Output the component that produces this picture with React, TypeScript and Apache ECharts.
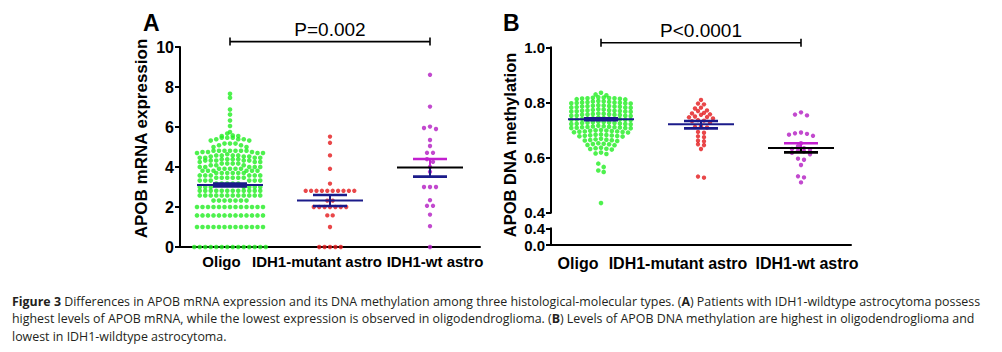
import React, { useEffect, useRef } from "react";
import * as echarts from "echarts";

// ---------- data ----------
const categories = ["Oligo", "IDH1-mutant astro", "IDH1-wt astro"];

// Panel A: APOB mRNA expression
const mrnaOligo = [
  0, 0, 0, 0, 0, 0, 0, 0, 0, 0, 0, 0, 0, 0,
  1, 1, 1, 1, 1, 1, 1, 1, 1, 1, 1, 1, 1,
  1.58, 1.58, 1.58, 1.58, 1.58, 1.58, 1.58, 1.58, 1.58, 1.58, 1.58, 1.58, 1.58,
  2, 2, 2, 2, 2, 2, 2, 2, 2, 2, 2, 2, 2,
  2.32, 2.32, 2.32, 2.32, 2.32, 2.32, 2.32,
  2.58, 2.58, 2.58, 2.58, 2.58, 2.58, 2.58, 2.58, 2.58, 2.58, 2.58, 2.58,
  2.81, 2.81, 2.81, 2.81, 2.81, 2.81, 2.81, 2.81, 2.81, 2.81, 2.81, 2.81,
  3, 3, 3, 3, 3, 3, 3, 3.17, 3.17, 3.17, 3.17, 3.17,
  3.32, 3.32, 3.32, 3.32, 3.32, 3.32, 3.46, 3.46, 3.46, 3.46, 3.46, 3.46,
  3.58, 3.58, 3.58, 3.58, 3.58, 3.58, 3.7, 3.7, 3.7, 3.7, 3.7, 3.7,
  3.81, 3.81, 3.81, 3.81, 3.81, 3.81, 3.91, 3.91, 3.91, 3.91, 3.91,
  4, 4, 4, 4, 4, 4.09, 4.09, 4.09, 4.17, 4.17, 4.17, 4.17,
  4.25, 4.25, 4.25, 4.32, 4.32, 4.32, 4.32, 4.32, 4.39, 4.39, 4.39, 4.39,
  4.46, 4.46, 4.46, 4.46, 4.52, 4.52, 4.52, 4.58, 4.58, 4.58, 4.58, 4.64,
  4.7, 4.7, 4.7, 4.75, 4.75, 4.75, 4.81, 4.81, 4.81, 4.81, 4.81, 4.81, 4.81,
  5, 5, 5.09, 5.09, 5.17, 5.17, 5.17,
  5.32, 5.32, 5.39, 5.39, 5.39, 5.46, 5.46, 5.46,
  5.55, 5.55, 5.58, 5.67,
  5.75, 6.05, 6.32, 6.62, 6.87, 7.46, 7.66,
];
const mrnaMutant = [
  0, 0, 0, 0, 0, 1, 1.58, 1.58,
  2, 2, 2, 2, 2, 2, 2, 2.32, 2.32,
  2.81, 2.81, 2.81, 2.81, 2.81, 2.81, 2.81, 2.81, 2.81, 2.81,
  3.17, 3.91, 4.58, 5.21, 5.52,
];
const mrnaWt = [
  0, 1.04, 1.62, 2.06, 2.06, 2.34, 3, 3, 3, 3.76, 4, 4.26, 4.39,
  4.71, 4.71, 5.05, 5.35, 5.9, 5.95, 6.02, 7.02, 8.61,
];
const mrnaMean = [3.1, 2.32, 3.97];
const mrnaSemLow = [3.03, 2.05, 3.52];
const mrnaSemHigh = [3.17, 2.6, 4.4];
const pTextA = "P=0.002";
const bracketLevelA = 10.27;

// Panel B: APOB DNA methylation
const methOligo = [
  0.435, 0.548, 0.553, 0.566, 0.578,
  0.613, 0.615, 0.618,
  0.629, 0.631, 0.632, 0.634, 0.636,
  0.645, 0.646, 0.648, 0.649, 0.65, 0.652,
  0.66, 0.662, 0.663, 0.664, 0.665, 0.666, 0.668,
  0.676, 0.677, 0.678, 0.679, 0.68, 0.681, 0.682, 0.683, 0.684,
  0.691, 0.692, 0.693, 0.694, 0.695, 0.695, 0.696, 0.697, 0.698, 0.699, 0.7,
  0.706, 0.707, 0.707, 0.708, 0.709, 0.71, 0.71, 0.711, 0.712, 0.713, 0.714, 0.715,
  0.721, 0.722, 0.722, 0.723, 0.724, 0.725, 0.725, 0.726, 0.727, 0.728, 0.729, 0.73,
  0.736, 0.737, 0.737, 0.738, 0.739, 0.74, 0.74, 0.741, 0.742, 0.743, 0.744, 0.745,
  0.751, 0.752, 0.752, 0.753, 0.754, 0.755, 0.755, 0.756, 0.757, 0.758, 0.759, 0.76,
  0.766, 0.767, 0.767, 0.768, 0.769, 0.77, 0.77, 0.771, 0.772, 0.773, 0.774, 0.775,
  0.781, 0.782, 0.782, 0.783, 0.784, 0.785, 0.785, 0.786, 0.787, 0.788, 0.789, 0.79,
  0.796, 0.797, 0.797, 0.798, 0.799, 0.8, 0.8, 0.801, 0.802, 0.803, 0.804, 0.805,
  0.811, 0.812, 0.813, 0.814, 0.815, 0.815, 0.816, 0.817, 0.818, 0.819,
  0.826, 0.829, 0.835,
];
const methMutant = [
  0.527, 0.531, 0.631, 0.645, 0.648, 0.659, 0.661, 0.674, 0.677, 0.69, 0.693,
  0.709, 0.711, 0.713, 0.726, 0.732, 0.734, 0.736,
  0.742, 0.746, 0.747, 0.749, 0.755, 0.757, 0.76, 0.762, 0.769,
  0.771, 0.778, 0.781, 0.793, 0.796, 0.809,
];
const methWt = [
  0.51, 0.528, 0.532, 0.573, 0.592, 0.596, 0.612, 0.617, 0.622, 0.625,
  0.628, 0.631, 0.634, 0.641, 0.652, 0.679, 0.683, 0.686, 0.688, 0.691,
  0.753, 0.756, 0.764,
];
const methMean = [0.739, 0.7206, 0.6347];
const methSemLow = [0.7355, 0.706, 0.619];
const methSemHigh = [0.7425, 0.7326, 0.6517];
const pTextB = "P<0.0001";
const bracketLevelB = 1.0166;

const captionLines = [
  "{b|Figure 3} Differences in APOB mRNA expression and its DNA methylation among three histological-molecular types. ({b|A}) Patients with IDH1-wildtype astrocytoma possess",
  "highest levels of APOB mRNA, while the lowest expression is observed in oligodendroglioma. ({b|B}) Levels of APOB DNA methylation are highest in oligodendroglioma and",
  "lowest in IDH1-wildtype astrocytoma.",
];

// ---------- styles ----------
const GREEN = "#22ee22";
const RED = "#e3191c";
const PURPLE = "#b31cc2";
const NAVY = "#1b1b8a";
const MAGENTA = "#c21fcf";
const BLACK = "#000000";
const FONT = "'Liberation Sans', Arial, sans-serif";
const CAPTION_FONT = "'Open Sans', Lato, sans-serif";

const statColorsA = [
  { mean: NAVY, hi: NAVY, lo: NAVY },
  { mean: NAVY, hi: NAVY, lo: NAVY },
  { mean: BLACK, hi: MAGENTA, lo: NAVY },
];
const statColorsB = [
  { mean: NAVY, hi: NAVY, lo: NAVY },
  { mean: NAVY, hi: NAVY, lo: NAVY },
  { mean: BLACK, hi: MAGENTA, lo: BLACK },
];
const labelShiftA = [-8.5, -13, 5];
const labelShiftB = [-23, -23, 6];

// ---------- helpers ----------
function swarm(values: number[], cat: number, binH: number, spacing: number) {
  const sorted = [...values].sort((a, b) => a - b);
  const rows: number[][] = [];
  let cur: number[] = [];
  let start = -Infinity;
  for (const v of sorted) {
    if (cur.length && v - start <= binH + 1e-9) cur.push(v);
    else {
      if (cur.length) rows.push(cur);
      cur = [v];
      start = v;
    }
  }
  if (cur.length) rows.push(cur);
  const out: any[] = [];
  for (const row of rows) {
    const desc = [...row].sort((a, b) => b - a);
    const n = desc.length;
    desc.forEach((v, k) => {
      let slot: number;
      if (n % 2 === 1) slot = k === 0 ? 0 : k % 2 === 1 ? -(k + 1) / 2 : k / 2;
      else slot = (k % 2 === 0 ? -1 : 1) * (Math.floor(k / 2) + 0.5);
      out.push({ value: [cat, v], symbolOffset: [slot * spacing, 0] });
    });
  }
  return out;
}

function statsRenderer(colors: { mean: string; hi: string; lo: string }[]) {
  return (params: any, api: any) => {
    const i = params.dataIndex;
    const c = api.value(0);
    const pm = api.coord([c, api.value(1)]);
    const pl = api.coord([c, api.value(2)]);
    const ph = api.coord([c, api.value(3)]);
    const x = pm[0];
    const col = colors[i];
    return {
      type: "group",
      children: [
        { type: "line", shape: { x1: x, y1: ph[1], x2: x, y2: pm[1] }, style: { stroke: col.hi, lineWidth: 2 } },
        { type: "line", shape: { x1: x, y1: pm[1], x2: x, y2: pl[1] }, style: { stroke: col.lo, lineWidth: 2 } },
        { type: "line", shape: { x1: x - 17, y1: ph[1], x2: x + 17, y2: ph[1] }, style: { stroke: col.hi, lineWidth: 2.6 } },
        { type: "line", shape: { x1: x - 17, y1: pl[1], x2: x + 17, y2: pl[1] }, style: { stroke: col.lo, lineWidth: 2.6 } },
        { type: "line", shape: { x1: x - 33, y1: pm[1], x2: x + 33, y2: pm[1] }, style: { stroke: col.mean, lineWidth: 2 } },
      ],
    };
  };
}

function bracketRenderer(text: string) {
  return (params: any, api: any) => {
    const p0 = api.coord([api.value(0), api.value(1)]);
    const p1 = api.coord([api.value(2), api.value(1)]);
    const y = p0[1];
    return {
      type: "group",
      children: [
        { type: "line", shape: { x1: p0[0], y1: y, x2: p1[0], y2: y }, style: { stroke: BLACK, lineWidth: 1.6 } },
        { type: "line", shape: { x1: p0[0], y1: y - 4, x2: p0[0], y2: y + 4 }, style: { stroke: BLACK, lineWidth: 1.6 } },
        { type: "line", shape: { x1: p1[0], y1: y - 4, x2: p1[0], y2: y + 4 }, style: { stroke: BLACK, lineWidth: 1.6 } },
        {
          type: "text",
          x: (p0[0] + p1[0]) / 2,
          y: y - 3,
          style: {
            text,
            fill: BLACK,
            fontSize: 19,
            fontFamily: FONT,
            align: "center",
            textAlign: "center",
            verticalAlign: "bottom",
            textVerticalAlign: "bottom",
          },
        },
      ],
    };
  };
}

function catLabel(shifts: number[], size: number) {
  const rich: any = {};
  shifts.forEach((d, i) => {
    rich["s" + i] = {
      fontSize: size,
      fontWeight: "bold",
      fontFamily: FONT,
      color: BLACK,
      padding: d < 0 ? [0, -2 * d, 0, 0] : [0, 0, 0, 2 * d],
    };
  });
  return {
    formatter: (v: string, i: number) => `{s${i}|${v}}`,
    rich,
  };
}

const axisLineStyle = { color: BLACK, width: 2 };

export default function App() {
  const ref = useRef<HTMLDivElement>(null);
  useEffect(() => {
    if (!ref.current) return;
    const chart = echarts.init(ref.current, null, { renderer: "svg" });
    const yLabel = (size: number, margin: number, fmt?: any) => ({
      fontSize: size,
      fontWeight: "bold",
      color: BLACK,
      fontFamily: FONT,
      margin,
      formatter: fmt,
    });
    const option: any = {
      animation: false,
      textStyle: { fontFamily: FONT },
      grid: [
        { left: 180, top: 47, width: 300, height: 200 },
        { left: 551, top: 47.3, width: 300, height: 165.4 },
        { left: 551, top: 228.3, width: 300, height: 16.7 },
      ],
      xAxis: [
        {
          gridIndex: 0,
          type: "category",
          data: categories,
          axisLine: { lineStyle: axisLineStyle },
          axisTick: { alignWithLabel: true, length: 5, lineStyle: axisLineStyle },
          axisLabel: { interval: 0, margin: 7, ...catLabel(labelShiftA, 15) },
          splitLine: { show: false },
        },
        { gridIndex: 1, type: "category", data: categories, show: false },
        {
          gridIndex: 2,
          type: "category",
          data: categories,
          axisLine: { lineStyle: axisLineStyle },
          axisTick: { alignWithLabel: true, length: 5, lineStyle: axisLineStyle },
          axisLabel: { interval: 0, margin: 10, ...catLabel(labelShiftB, 16) },
          splitLine: { show: false },
        },
      ],
      yAxis: [
        {
          gridIndex: 0,
          type: "value",
          min: 0,
          max: 10,
          interval: 2,
          name: "APOB mRNA expression",
          nameLocation: "middle",
          nameRotate: 90,
          nameGap: 30,
          nameTextStyle: { fontSize: 17, fontWeight: "bold", color: BLACK, fontFamily: FONT, padding: [0, 0, 0, 17] },
          axisLine: { show: true, lineStyle: axisLineStyle },
          axisTick: { show: true, length: 5, lineStyle: axisLineStyle },
          axisLabel: yLabel(16, 6),
          splitLine: { show: false },
        },
        {
          gridIndex: 1,
          type: "value",
          min: 0.4,
          max: 1.0,
          interval: 0.2,
          name: "APOB DNA methylation",
          nameLocation: "middle",
          nameRotate: 90,
          nameGap: 33,
          nameTextStyle: { fontSize: 16.5, fontWeight: "bold", color: BLACK, fontFamily: FONT, padding: [0, 30, 0, 0] },
          axisLine: { show: true, lineStyle: axisLineStyle },
          axisTick: { show: true, length: 5, lineStyle: axisLineStyle },
          axisLabel: yLabel(15, 6, (v: number) => v.toFixed(1)),
          splitLine: { show: false },
        },
        {
          gridIndex: 2,
          type: "value",
          min: 0,
          max: 0.4,
          interval: 0.4,
          axisLine: { show: true, lineStyle: axisLineStyle },
          axisTick: { show: true, length: 5, lineStyle: axisLineStyle },
          axisLabel: yLabel(15, 6, (v: number) => v.toFixed(1)),
          splitLine: { show: false },
        },
      ],
      series: [
        { type: "scatter", xAxisIndex: 0, yAxisIndex: 0, clip: false, symbolSize: 4.6, itemStyle: { color: GREEN }, data: swarm(mrnaOligo, 0, 0.18, 5.5) },
        { type: "scatter", xAxisIndex: 0, yAxisIndex: 0, clip: false, symbolSize: 4.4, itemStyle: { color: RED }, data: swarm(mrnaMutant, 1, 0.18, 5.4) },
        { type: "scatter", xAxisIndex: 0, yAxisIndex: 0, clip: false, symbolSize: 4.4, itemStyle: { color: PURPLE }, data: swarm(mrnaWt, 2, 0.18, 6) },
        {
          type: "custom",
          xAxisIndex: 0,
          yAxisIndex: 0,
          z: 5,
          renderItem: statsRenderer(statColorsA),
          data: categories.map((_, i) => [i, mrnaMean[i], mrnaSemLow[i], mrnaSemHigh[i]]),
        },
        {
          type: "custom",
          xAxisIndex: 0,
          yAxisIndex: 0,
          z: 5,
          renderItem: bracketRenderer(pTextA),
          data: [[0, bracketLevelA, 2]],
        },
        { type: "scatter", xAxisIndex: 1, yAxisIndex: 1, clip: false, symbolSize: 4.6, itemStyle: { color: GREEN }, data: swarm(methOligo, 0, 0.013, 5.4) },
        { type: "scatter", xAxisIndex: 1, yAxisIndex: 1, clip: false, symbolSize: 4.4, itemStyle: { color: RED }, data: swarm(methMutant, 1, 0.013, 6) },
        { type: "scatter", xAxisIndex: 1, yAxisIndex: 1, clip: false, symbolSize: 4.4, itemStyle: { color: PURPLE }, data: swarm(methWt, 2, 0.013, 6) },
        {
          type: "custom",
          xAxisIndex: 1,
          yAxisIndex: 1,
          z: 5,
          renderItem: statsRenderer(statColorsB),
          data: categories.map((_, i) => [i, methMean[i], methSemLow[i], methSemHigh[i]]),
        },
        {
          type: "custom",
          xAxisIndex: 1,
          yAxisIndex: 1,
          z: 5,
          renderItem: bracketRenderer(pTextB),
          data: [[0, bracketLevelB, 2]],
        },
      ],
      graphic: [
        {
          type: "text",
          left: 143,
          top: 11,
          style: { text: "A", fontSize: 23, fontWeight: "bold", fontFamily: FONT, fill: BLACK },
        },
        {
          type: "text",
          left: 503,
          top: 11,
          style: { text: "B", fontSize: 23, fontWeight: "bold", fontFamily: FONT, fill: BLACK },
        },
        ...captionLines.map((t, i) => ({
          type: "text",
          left: 12,
          top: 295 + i * 17.6,
          style: {
            text: t,
            fontSize: 12.4,
            fontFamily: CAPTION_FONT,
            fill: "#231f20",
            rich: {
              b: { fontSize: 12.4, fontWeight: "bold", fontFamily: CAPTION_FONT, fill: "#231f20" },
            },
          },
        })),
      ],
    };
    chart.setOption(option);
    return () => chart.dispose();
  }, []);
  return (
    <div
      ref={ref}
      style={{ position: "fixed", left: 0, top: 0, width: 1002, height: 352, background: "#fff" }}
    />
  );
}
